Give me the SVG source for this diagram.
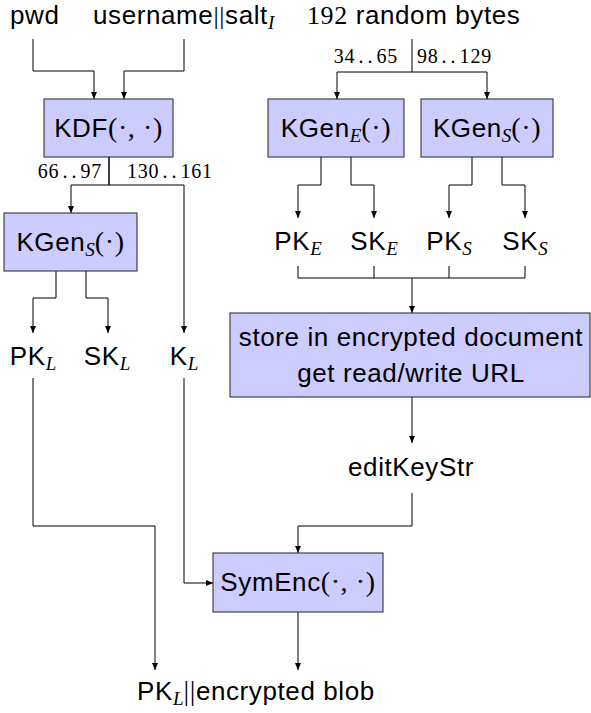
<svg xmlns="http://www.w3.org/2000/svg" width="591" height="713" viewBox="0 0 591 713">
<style>
.box{fill:#ccccff;stroke:#222;stroke-width:1}
.c{fill:none;stroke:#000;stroke-width:1}
.t{font-family:"Liberation Sans",Arial,sans-serif;font-size:26px;letter-spacing:0.6px;fill:#000}
.m{font-family:"Liberation Serif","Times New Roman",serif;font-size:28px}
.mt{font-family:"Liberation Serif","Times New Roman",serif;font-size:26px}
.i{font-family:"Liberation Serif","Times New Roman",serif;font-style:italic;font-size:19px;letter-spacing:0}
.n{font-family:"Liberation Serif","Times New Roman",serif;font-size:20px;letter-spacing:0.8px;fill:#000}
.d{letter-spacing:4px}
</style>
<defs>
<marker id="ar" markerUnits="userSpaceOnUse" markerWidth="8" markerHeight="6" refX="7" refY="3" orient="auto">
<path d="M0,0 L7,3 L0,6 z" fill="#000"/>
</marker>
</defs>
<g id="connectors">
<path class="c" d="M33,39 V71 H94 V99" marker-end="url(#ar)"/>
<path class="c" d="M184,39 V71 H124 V99" marker-end="url(#ar)"/>
<path class="c" d="M109,157 V185 H71 V213" marker-end="url(#ar)"/>
<path class="c" d="M109,157 V185 H184 V333" marker-end="url(#ar)"/>
<path class="c" d="M412,39 V72 H337 V99" marker-end="url(#ar)"/>
<path class="c" d="M412,72 H487 V99" marker-end="url(#ar)"/>
<path class="c" d="M321,157 V185 H298 V218" marker-end="url(#ar)"/>
<path class="c" d="M351,157 V185 H374 V218" marker-end="url(#ar)"/>
<path class="c" d="M472,157 V185 H449 V218" marker-end="url(#ar)"/>
<path class="c" d="M502,157 V185 H525 V218" marker-end="url(#ar)"/>
<path class="c" d="M56,271 V298 H33 V333" marker-end="url(#ar)"/>
<path class="c" d="M86,271 V298 H108 V333" marker-end="url(#ar)"/>
<path class="c" d="M298,266 V278 H525 V266 M374,266 V278 M449,266 V278"/>
<path class="c" d="M412,278 V313" marker-end="url(#ar)"/>
<path class="c" d="M412,397 V443" marker-end="url(#ar)"/>
<path class="c" d="M412,493 V526 H298 V553" marker-end="url(#ar)"/>
<path class="c" d="M184,378 V583 H213" marker-end="url(#ar)"/>
<path class="c" d="M33,378 V526 H155 V670" marker-end="url(#ar)"/>
<path class="c" d="M298,612 V670" marker-end="url(#ar)"/>
</g>
<g id="inputs">
<text class="t" x="10" y="24">pwd</text>
<text class="t" x="93" y="24">username<tspan class="mt">||</tspan>salt<tspan class="i" dy="5">I</tspan></text>
<text class="t" x="307" y="24"><tspan class="mt">192</tspan> random bytes</text>
</g>
<g id="labels">
<text class="n" x="102" y="178" text-anchor="end">66<tspan class="d" dx="3">..</tspan>97</text>
<text class="n" x="127" y="178">130<tspan class="d" dx="3">..</tspan>161</text>
<text class="n" x="398" y="63" text-anchor="end">34<tspan class="d" dx="3">..</tspan>65</text>
<text class="n" x="417" y="63">98<tspan class="d" dx="3">..</tspan>129</text>
</g>
<g id="kdf">
<rect class="box" x="44" y="99" width="129" height="58"/>
<text class="t" x="108.5" y="137" text-anchor="middle">KDF<tspan class="m">(·, ·)</tspan></text>
</g>
<g id="kgen-e">
<rect class="box" x="268" y="99" width="136" height="58"/>
<text class="t" x="336" y="137" text-anchor="middle">KGen<tspan class="i" dy="5">E</tspan><tspan class="m" dy="-5">(·)</tspan></text>
</g>
<g id="kgen-s">
<rect class="box" x="421" y="99" width="132" height="58"/>
<text class="t" x="487" y="137" text-anchor="middle">KGen<tspan class="i" dy="5">S</tspan><tspan class="m" dy="-5">(·)</tspan></text>
</g>
<g id="kgen-s-left">
<rect class="box" x="4" y="213" width="133" height="58"/>
<text class="t" x="70.5" y="251" text-anchor="middle">KGen<tspan class="i" dy="5">S</tspan><tspan class="m" dy="-5">(·)</tspan></text>
</g>
<g id="keys-right">
<text class="t" x="298" y="250" text-anchor="middle">PK<tspan class="i" dy="5">E</tspan></text>
<text class="t" x="374" y="250" text-anchor="middle">SK<tspan class="i" dy="5">E</tspan></text>
<text class="t" x="449" y="250" text-anchor="middle">PK<tspan class="i" dy="5">S</tspan></text>
<text class="t" x="525" y="250" text-anchor="middle">SK<tspan class="i" dy="5">S</tspan></text>
</g>
<g id="keys-left">
<text class="t" x="33" y="365" text-anchor="middle">PK<tspan class="i" dy="5">L</tspan></text>
<text class="t" x="107" y="365" text-anchor="middle">SK<tspan class="i" dy="5">L</tspan></text>
<text class="t" x="184" y="365" text-anchor="middle">K<tspan class="i" dy="5">L</tspan></text>
</g>
<g id="store">
<rect class="box" x="230" y="313" width="360" height="84"/>
<text class="t" x="411" y="346" text-anchor="middle">store in encrypted document</text>
<text class="t" x="411" y="382" text-anchor="middle">get read/write URL</text>
</g>
<g id="editkey">
<text class="t" x="411" y="476" text-anchor="middle">editKeyStr</text>
</g>
<g id="symenc">
<rect class="box" x="213" y="553" width="170" height="59"/>
<text class="t" x="298" y="591" text-anchor="middle">SymEnc<tspan class="m">(·, ·)</tspan></text>
</g>
<g id="output">
<text class="t" x="137" y="700">PK<tspan class="i" dy="5">L</tspan><tspan class="m" dy="-5">||</tspan>encrypted blob</text>
</g>
</svg>
